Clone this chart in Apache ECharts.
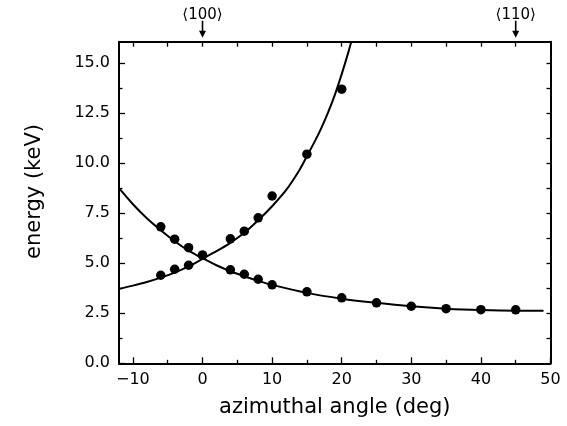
<!DOCTYPE html>
<html>
<head>
<meta charset="utf-8">
<script src="https://cdn.jsdelivr.net/npm/echarts@6/dist/echarts.min.js"></script>
<style>html,body{margin:0;padding:0;background:#fff}#c{width:567px;height:426px}</style>
</head>
<body>
<div id="c"></div>
<script>
// ---- data ----
const xMin = -12, xMax = 50, yMin = 0, yMax = 16.07;
const xMajorTicks = [-10, 0, 10, 20, 30, 40, 50];
const xMinorTicks = [-5, 5, 15, 25, 35, 45];
const xTopTicks = [-10, -5, 0, 5, 10, 15, 20, 25, 30, 35, 40, 45];
const yMajorTicks = [0, 2.5, 5, 7.5, 10, 12.5, 15];
const yMinorTicks = [1.25, 3.75, 6.25, 8.75, 11.25, 13.75];
const yRightTicks = [1.25, 2.5, 3.75, 5, 6.25, 7.5, 8.75, 10, 11.25, 12.5, 13.75, 15];

// measured points: rising branch
const riseAngles = [-6, -4, -2, 0, 4, 6, 8, 10, 15, 20];
const riseEnergy = [4.4, 4.7, 4.9, 5.4, 6.22, 6.6, 7.27, 8.36, 10.45, 13.7];
// measured points: falling branch
const fallAngles = [-6, -4, -2, 0, 4, 6, 8, 10, 15, 20, 25, 30, 35, 40, 45];
const fallEnergy = [6.82, 6.2, 5.78, 5.4, 4.67, 4.45, 4.2, 3.92, 3.57, 3.27, 3.02, 2.85, 2.73, 2.68, 2.67];

// fitted curves
const riseCurveX = [-12, -10, -8, -6, -4, -2, 0, 2, 4, 6, 8, 10, 12, 14, 15, 16, 17, 18, 19, 20, 21, 21.4];
const riseCurveY = [3.72, 3.88, 4.06, 4.28, 4.53, 4.84, 5.22, 5.6, 6.02, 6.52, 7.15, 7.85, 8.65, 9.7, 10.35, 11.0, 11.7, 12.5, 13.4, 14.45, 15.6, 16.1];
const fallCurveX = [-12, -10, -8, -6, -4, -2, 0, 2, 4, 6, 8, 10, 15, 20, 25, 30, 35, 40, 45, 49];
const fallCurveY = [8.75, 7.95, 7.25, 6.65, 6.1, 5.63, 5.25, 4.9, 4.6, 4.35, 4.12, 3.92, 3.52, 3.23, 3.02, 2.85, 2.73, 2.66, 2.63, 2.63];

// crystal directions marked on top axis
const directionAngles = [0, 45];
const directionLabels = ['\u27E8100\u27E9', '\u27E8110\u27E9'];

const xLabel = 'azimuthal angle (deg)';
const yLabel = 'energy (keV)';

// ---- chart ----
const zip = (xs, ys) => xs.map((x, i) => [x, ys[i]]);
const FONT = 'DejaVu Sans';
const black = '#000';

const chart = echarts.init(document.getElementById('c'), null, {renderer: 'canvas'});
chart.setOption({
  backgroundColor: '#fff',
  animation: false,
  grid: {left: 119, right: 16.5, top: 41.7, bottom: 62.7},
  xAxis: [
    {
      type: 'value', position: 'bottom', min: xMin, max: xMax,
      axisLine: {show: true, onZero: false, lineStyle: {color: black, width: 2}},
      axisTick: {show: true, inside: true, length: 6, customValues: xMajorTicks, lineStyle: {color: black, width: 1.3}},
      axisLabel: {show: true, customValues: xMajorTicks, margin: 9, color: black, fontFamily: FONT, fontSize: 16,
        formatter: v => (v < 0 ? '\u2212' + Math.abs(v) : String(v))},
      splitLine: {show: false},
      name: xLabel, nameLocation: 'middle', nameGap: 34,
      nameTextStyle: {color: black, fontFamily: FONT, fontSize: 21}
    },
    {
      type: 'value', position: 'bottom', min: xMin, max: xMax,
      axisLine: {show: false, onZero: false},
      axisTick: {show: true, inside: true, length: 3.5, customValues: xMinorTicks, lineStyle: {color: black, width: 1.3}},
      axisLabel: {show: false}, splitLine: {show: false}
    },
    {
      type: 'value', position: 'top', min: xMin, max: xMax,
      axisLine: {show: true, onZero: false, lineStyle: {color: black, width: 2}},
      axisTick: {show: true, inside: true, length: 5, customValues: xTopTicks, lineStyle: {color: black, width: 1.3}},
      axisLabel: {show: false}, splitLine: {show: false}
    }
  ],
  yAxis: [
    {
      type: 'value', position: 'left', min: yMin, max: yMax,
      axisLine: {show: true, onZero: false, lineStyle: {color: black, width: 2}},
      axisTick: {show: true, inside: true, length: 6, customValues: yMajorTicks, lineStyle: {color: black, width: 1.3}},
      axisLabel: {show: true, customValues: yMajorTicks, margin: 9, color: black, fontFamily: FONT, fontSize: 16,
        formatter: v => v.toFixed(1)},
      splitLine: {show: false},
      name: yLabel, nameLocation: 'middle', nameGap: 74, nameRotate: 90,
      nameTextStyle: {color: black, fontFamily: FONT, fontSize: 21, padding: [0, 0, 0, 22]}
    },
    {
      type: 'value', position: 'left', min: yMin, max: yMax,
      axisLine: {show: false, onZero: false},
      axisTick: {show: true, inside: true, length: 3.5, customValues: yMinorTicks, lineStyle: {color: black, width: 1.3}},
      axisLabel: {show: false}, splitLine: {show: false}
    },
    {
      type: 'value', position: 'right', min: yMin, max: yMax,
      axisLine: {show: true, onZero: false, lineStyle: {color: black, width: 2}},
      axisTick: {show: true, inside: true, length: 4, customValues: yRightTicks, lineStyle: {color: black, width: 1.3}},
      axisLabel: {show: false}, splitLine: {show: false}
    }
  ],
  series: [
    {
      name: 'rise fit', type: 'line', data: zip(riseCurveX, riseCurveY),
      showSymbol: false, smooth: 0.3, clip: true,
      lineStyle: {color: black, width: 2}, z: 3
    },
    {
      name: 'fall fit', type: 'line', data: zip(fallCurveX, fallCurveY),
      showSymbol: false, smooth: 0.3, clip: true,
      lineStyle: {color: black, width: 2}, z: 3
    },
    {
      name: 'rise data', type: 'scatter', data: zip(riseAngles, riseEnergy),
      symbol: 'circle', symbolSize: 9.5, itemStyle: {color: black, opacity: 1}, z: 4
    },
    {
      name: 'fall data', type: 'scatter', data: zip(fallAngles, fallEnergy),
      symbol: 'circle', symbolSize: 9.5, itemStyle: {color: black, opacity: 1}, z: 4
    },
    {
      name: 'directions', type: 'scatter', clip: false, silent: true,
      data: directionAngles.map(a => [a, yMax]),
      symbol: 'path://M2.7,0 L4.3,0 L4.3,10 L7,10 L3.5,17 L0,10 L2.7,10 Z',
      symbolSize: [7, 17], symbolOffset: [0, -12.5], symbolKeepAspect: false,
      itemStyle: {color: black, opacity: 1},
      label: {show: true, position: 'top', distance: -2, color: black, fontFamily: FONT, fontSize: 15,
        formatter: p => directionLabels[p.dataIndex]},
      z: 5
    }
  ]
});
</script>
</body>
</html>
